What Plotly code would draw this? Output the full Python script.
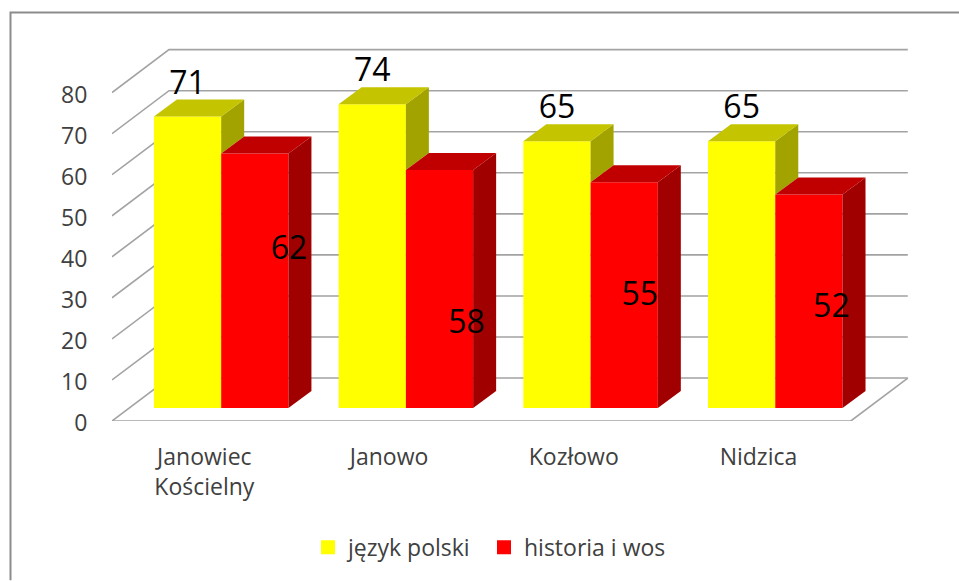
import plotly.graph_objects as go

categories = ["Janowiec<br>Kościelny", "Janowo", "Kozłowo", "Nidzica"]
polski = [71, 74, 65, 65]
historia = [62, 58, 55, 52]
y_ticks = [0, 10, 20, 30, 40, 50, 60, 70, 80]
red_label_x = [0.458, 1.42, 2.357, 3.395]
red_label_y = [41.4, 23.5, 30.2, 27.3]

W, H = 959, 581
ML, MR, MT, MB = 112, 44, 30, 159.5
PX_X = 184.7
PX_Y = 4.11
plot_w = W - ML - MR
plot_h = H - MT - MB
x_range = [-0.5, -0.5 + plot_w / PX_X]
y_range = [0, plot_h / PX_Y]

WALL_DX, WALL_DY = 57 / PX_X, 43 / PX_Y
BAR_DX, BAR_DY = 23 / PX_X, 17 / PX_Y
BASE = 13 / PX_Y
BAR_W = 67.25 / PX_X
YEL_OFF = -0.273
RED_OFF = YEL_OFF + BAR_W
GRID = "#a3a3a3"
TXT = "#404040"
FONT = "Open Sans"
TICK_SIZE = 23
LABEL_SIZE = 32

fig = go.Figure()
idx = list(range(len(categories)))


def poly(xs, ys, color):
    fig.add_trace(go.Scatter(x=xs + xs[:1], y=ys + ys[:1], mode="lines", fill="toself",
                             fillcolor=color, line=dict(width=0, color=color),
                             hoverinfo="skip", showlegend=False))


fig.add_trace(go.Bar(x=idx, y=polski, base=BASE, offset=YEL_OFF, width=BAR_W,
                     marker=dict(color="#ffff00", line=dict(width=0)), showlegend=False))
fig.add_trace(go.Bar(x=idx, y=historia, base=BASE, offset=RED_OFF, width=BAR_W,
                     marker=dict(color="#ff0000", line=dict(width=0)), showlegend=False))

for i, (p, h) in enumerate(zip(polski, historia)):
    x0 = i + YEL_OFF
    x1 = x0 + BAR_W
    x2 = x1 + BAR_W
    tp, th = BASE + p, BASE + h
    poly([x1, x1 + BAR_DX, x1 + BAR_DX, x1], [tp, tp + BAR_DY, th + BAR_DY, th], "#a3a300")
    poly([x0, x0 + BAR_DX, x1 + BAR_DX, x1], [tp, tp + BAR_DY, tp + BAR_DY, tp], "#c4c400")
    poly([x2, x2 + BAR_DX, x2 + BAR_DX, x2], [th, th + BAR_DY, BASE + BAR_DY, BASE], "#a00000")
    poly([x1, x1 + BAR_DX, x2 + BAR_DX, x2], [th, th + BAR_DY, th + BAR_DY, th], "#c00000")

fig.add_trace(go.Scatter(
    x=[i + YEL_OFF + BAR_W / 2 for i in idx],
    y=[BASE + v + 31 / PX_Y for v in polski],
    text=[str(v) for v in polski], mode="text", textposition="middle center",
    textfont=dict(family=FONT, size=LABEL_SIZE, color="#000000"), hoverinfo="skip", showlegend=False))
fig.add_trace(go.Scatter(
    x=red_label_x, y=red_label_y,
    text=[str(v) for v in historia], mode="text", textposition="middle center",
    textfont=dict(family=FONT, size=LABEL_SIZE, color="#000000"), hoverinfo="skip", showlegend=False))

fig.add_trace(go.Scatter(x=[None], y=[None], mode="markers", name="język polski", legend="legend",
                         marker=dict(symbol="square", size=14, color="#ffff00")))
fig.add_trace(go.Scatter(x=[None], y=[None], mode="markers", name="historia i wos", legend="legend2",
                         marker=dict(symbol="square", size=14, color="#ff0000")))

shapes = []
x_l, x_r = -0.5, len(categories) - 0.5
for t in y_ticks:
    shapes.append(dict(type="path", xref="x", yref="y", layer="below",
                       path=f"M{x_l},{t} L{x_l + WALL_DX},{t + WALL_DY} L{x_r + WALL_DX},{t + WALL_DY}",
                       line=dict(color=GRID, width=1.6)))
shapes.append(dict(type="path", xref="x", yref="y", layer="below",
                   path=f"M{x_l},0 L{x_r},0 L{x_r + WALL_DX},{WALL_DY}",
                   line=dict(color=GRID, width=1.6)))
# chart frame (left and top edges only reach the picture)
fx = (10.5 - ML) / plot_w
fy = 1 + (MT - 12.5) / plot_h
fr = (W - ML) / plot_w
shapes.append(dict(type="path", xref="paper", yref="paper", layer="below",
                   path=f"M{fx},{-MB / plot_h} L{fx},{fy} L{fr},{fy}",
                   line=dict(color="#8c8c8c", width=2)))


def legend_at(px):
    return dict(orientation="h", xref="paper", yref="paper", xanchor="left", yanchor="middle",
                x=(px - ML) / plot_w, y=-(548 - (H - MB)) / plot_h,
                bgcolor="rgba(0,0,0,0)", font=dict(family=FONT, size=TICK_SIZE, color=TXT),
                itemclick=False, itemdoubleclick=False)


fig.update_layout(
    width=W, height=H, autosize=False,
    margin=dict(l=ML, r=MR, t=MT, b=MB, pad=0),
    paper_bgcolor="#ffffff", plot_bgcolor="rgba(0,0,0,0)",
    barmode="overlay", shapes=shapes, hovermode=False,
    font=dict(family=FONT, size=TICK_SIZE, color=TXT),
    xaxis=dict(range=x_range, tickmode="array", tickvals=idx, ticktext=categories,
               showgrid=False, zeroline=False, showline=False,
               ticks="outside", ticklen=15, tickcolor="rgba(0,0,0,0)",
               tickfont=dict(family=FONT, size=TICK_SIZE, color=TXT)),
    yaxis=dict(range=y_range, tickmode="array", tickvals=y_ticks,
               showgrid=False, zeroline=False, showline=False,
               ticks="outside", ticklen=19, tickcolor="rgba(0,0,0,0)", ticklabelshift=2,
               tickfont=dict(family=FONT, size=TICK_SIZE, color=TXT)),
    legend=legend_at(308),
    legend2=legend_at(484),
)

fig.write_html("out.html", config=dict(displayModeBar=False),
               post_script="document.body.style.margin='0';document.body.style.overflow='hidden';")
